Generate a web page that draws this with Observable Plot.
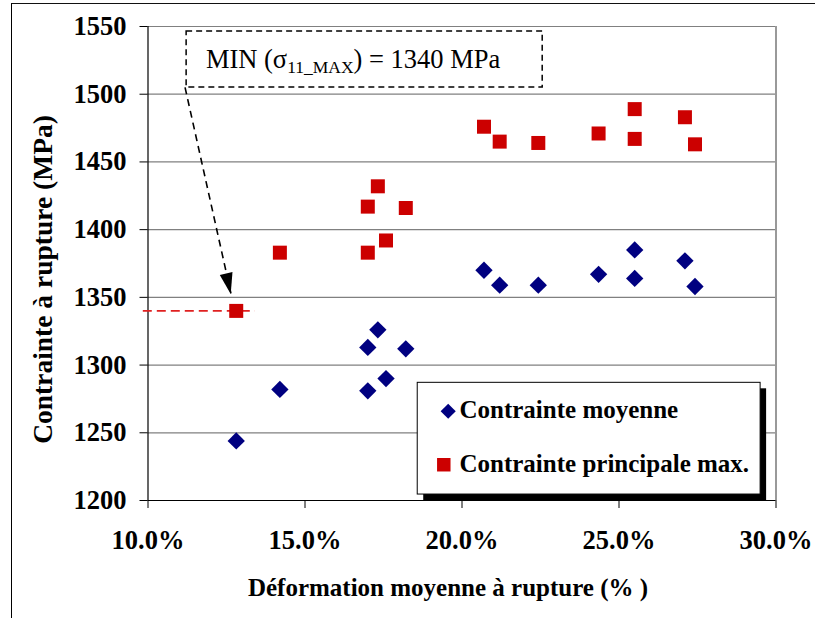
<!DOCTYPE html>
<html>
<head>
<meta charset="utf-8">
<script src="https://cdn.jsdelivr.net/npm/d3@7"></script>
<script src="https://cdn.jsdelivr.net/npm/@observablehq/plot@0.6"></script>
<style>
  body { margin: 0; background: #fff; }
  #wrap { position: relative; width: 815px; height: 618px; overflow: hidden; background: #fff; }
  #frame { position: absolute; left: 11px; top: 3px; width: 900px; height: 700px;
           border-left: 1.5px solid #000; border-top: 1.5px solid #111; pointer-events: none; }
  #chart { position: absolute; left: 0; top: 0; }
  #chart svg, #chart svg text, #chart svg tspan { font-family: "Liberation Serif", "Times New Roman", Times, serif !important; }
</style>
</head>
<body>
<div id="wrap"><div id="chart"></div><div id="frame"></div></div>
<script>
// ---- data ----
const deformation = [12.81, 14.2, 17.0, 17.0, 17.32, 17.58, 18.21, 20.7, 21.2, 22.43, 24.35, 25.5, 25.5, 27.1, 27.42];
const contrainteMoyenne = [1244, 1282, 1313, 1281, 1326, 1290, 1312, 1370, 1359, 1359, 1367, 1385, 1364, 1377, 1358];
const contraintePrincipaleMax = [1340, 1383, 1417, 1383, 1432, 1392, 1416, 1476, 1465, 1464, 1471, 1489, 1467, 1483, 1463];

const seriesNames = ["Contrainte moyenne", "Contrainte principale max."];
const seriesColors = ["#000080", "#CC0000"];
const xTicks = [10, 15, 20, 25, 30];
const yTicks = [1200, 1250, 1300, 1350, 1400, 1450, 1500, 1550];
const xTitle = "Déformation moyenne à rupture (% )";
const yTitle = "Contrainte à rupture (MPa)";

// annotation (data space)
const minMax = d3.min(contraintePrincipaleMax);
const minLineX = [9.85, 13.42];
const annotBox = {x1: 11.23, x2: 22.57, y1: 1505.0, y2: 1546.4};
const annotTextAt = [11.86, 1519.0];
const arrowFrom = [11.18, 1505.0];
const arrowTip = [12.65, 1352.1];

// legend (data space)
const legendBox = {x1: 18.59, x2: 29.51, y1: 1204.4, y2: 1286.9};
const legendDiamond = [{x: 19.56, y: 1265.9}];
const legendSquare = [{x: 19.42, y: 1226.4}];
const legendLabels = [
  {x: 19.92, y: 1266.8, text: seriesNames[0]},
  {x: 19.92, y: 1226.6, text: seriesNames[1]}
];

const FONT = "Liberation Serif, Times New Roman, Times, serif";
const idx = d3.range(deformation.length);
const svgNS = "http://www.w3.org/2000/svg";

const arrowHead = (index, {x, y}) => {
  const tx = x(arrowTip[0]), ty = y(arrowTip[1]);
  const sx = x(arrowFrom[0]), sy = y(arrowFrom[1]);
  const L = Math.hypot(tx - sx, ty - sy), ux = (tx - sx) / L, uy = (ty - sy) / L;
  const len = 21, hw = 6.5;
  const bx = tx - ux * len, by = ty - uy * len;
  const p = document.createElementNS(svgNS, "polygon");
  p.setAttribute("points", [[tx, ty], [bx - uy * hw, by + ux * hw], [bx + uy * hw, by - ux * hw]].map(d => d.join(",")).join(" "));
  p.setAttribute("fill", "#000");
  return p;
};

const annotText = (index, {x, y}) => {
  const t = document.createElementNS(svgNS, "text");
  t.setAttribute("x", x(annotTextAt[0]));
  t.setAttribute("y", y(annotTextAt[1]));
  t.setAttribute("font-size", "26.5");
  t.setAttribute("font-family", FONT);
  t.setAttribute("text-anchor", "start");
  t.setAttribute("fill", "#000");
  const parts = [
    {s: "MIN (σ", size: 26.5, dy: 0},
    {s: "11_MAX", size: 17.5, dy: 5},
    {s: ") = " + minMax + " MPa", size: 26.5, dy: -5}
  ];
  for (const part of parts) {
    const ts = document.createElementNS(svgNS, "tspan");
    ts.setAttribute("font-size", part.size);
    ts.setAttribute("dy", part.dy);
    ts.textContent = part.s;
    t.appendChild(ts);
  }
  return t;
};

const chart = Plot.plot({
  width: 815,
  height: 618,
  marginLeft: 147.5,
  marginRight: 39.5,
  marginTop: 26,
  marginBottom: 118,
  style: {fontFamily: FONT, background: "transparent", overflow: "visible"},
  x: {domain: [10, 30]},
  y: {domain: [1200, 1550]},
  marks: [
    Plot.gridY({ticks: yTicks.slice(1), stroke: "#808080", strokeOpacity: 1, strokeWidth: 1.2}),
    Plot.ruleX([30], {y1: 1200, y2: 1550, stroke: "#999", strokeWidth: 2}),
    Plot.axisY({ticks: yTicks, tickSize: 8, tickPadding: 13.5, fontSize: 26.5, fontWeight: "bold",
                fontFamily: FONT, tickFormat: d => String(d), label: null, color: "#000"}),
    Plot.axisX({ticks: xTicks, tickSize: 8, tickPadding: 21.5, fontSize: 26.5, fontWeight: "bold",
                fontFamily: FONT, tickFormat: d => d.toFixed(1) + "%", label: null, color: "#000"}),
    Plot.ruleX([10], {y1: 1200, y2: 1550, stroke: "#000", strokeWidth: 1.2}),
    Plot.ruleY([1200], {x1: 10, x2: 30, stroke: "#000", strokeWidth: 1.2}),
    // titles
    Plot.text([yTitle], {frameAnchor: "left", text: d => d, rotate: -90, dx: -104.5, dy: 16,
                         textAnchor: "middle", lineAnchor: "middle",
                         fontSize: 27.5, fontWeight: "bold", fontFamily: FONT, fill: "#000"}),
    Plot.text([xTitle], {frameAnchor: "bottom", text: d => d, dx: -14, dy: 87, lineAnchor: "middle",
                         textAnchor: "middle",
                         fontSize: 25, fontWeight: "bold", fontFamily: FONT, fill: "#000"}),
    // min reference line
    Plot.ruleY([minMax], {x1: minLineX[0], x2: minLineX[1], stroke: "#E02020", strokeWidth: 1.6, strokeDasharray: "9,5"}),
    // annotation box + arrow
    Plot.rect([annotBox], {x1: "x1", x2: "x2", y1: "y1", y2: "y2", fill: "#fff", stroke: "#000",
                           strokeWidth: 1.5, strokeDasharray: "6,4"}),
    annotText,
    Plot.link([0], {x1: arrowFrom[0], y1: arrowFrom[1], x2: arrowTip[0], y2: arrowTip[1],
                    stroke: "#000", strokeWidth: 1.6, strokeDasharray: "7,5"}),
    arrowHead,
    // data
    Plot.dot(idx, {x: i => deformation[i], y: i => contrainteMoyenne[i], symbol: "diamond2", r: 7.8, fill: seriesColors[0]}),
    Plot.dot(idx, {x: i => deformation[i], y: i => contraintePrincipaleMax[i], symbol: "square", r: 7.9, fill: seriesColors[1]}),
    // legend
    Plot.rect([legendBox], {x1: "x1", x2: "x2", y1: "y1", y2: "y2", fill: "#000", dx: 6, dy: 6}),
    Plot.rect([legendBox], {x1: "x1", x2: "x2", y1: "y1", y2: "y2", fill: "#fff", stroke: "#000", strokeWidth: 1}),
    Plot.dot(legendDiamond, {x: "x", y: "y", symbol: "diamond2", r: 6.8, fill: seriesColors[0]}),
    Plot.dot(legendSquare, {x: "x", y: "y", symbol: "square", r: 7.6, fill: seriesColors[1]}),
    Plot.text(legendLabels, {x: "x", y: "y", text: "text", textAnchor: "start", lineAnchor: "middle",
                             fontSize: 25, fontWeight: "bold", fontFamily: FONT, fill: "#000"})
  ]
});
document.getElementById("chart").appendChild(chart);
</script>
</body>
</html>
